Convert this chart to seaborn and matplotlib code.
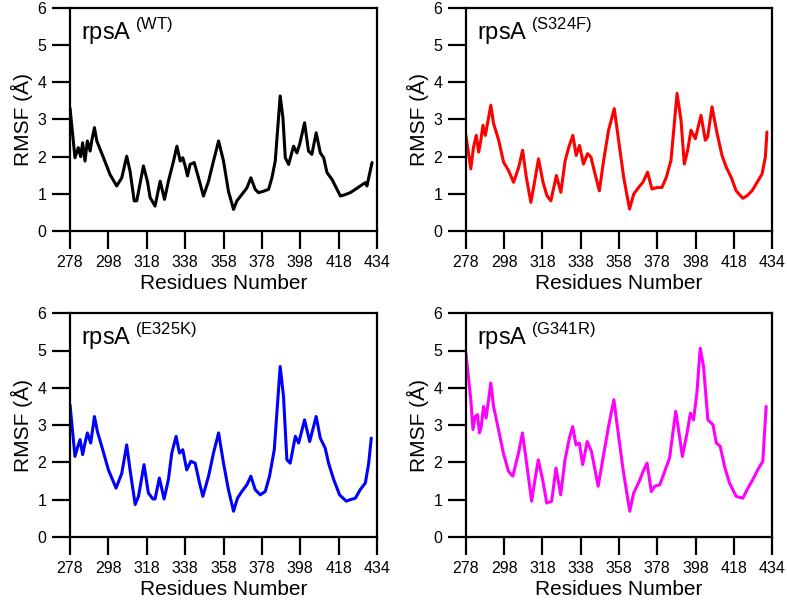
import numpy as np
import seaborn as sns
from matplotlib import pyplot as plt

# residue positions and RMSF values
wt_res = [278, 280.5, 282.2, 283.4, 284.4, 285.6, 286.8, 288.2, 289.0, 290.4, 291.6, 295.0,
          298.3, 301.7, 304.3, 306.8, 308.5, 310.6, 311.9, 315.3, 317.3, 318.7, 321.2, 323.8,
          326.0, 328.0, 330.6, 332.3, 334.0, 335.3, 336.5, 337.7, 339.0, 341.1, 343.3, 345.8,
          348.4, 350.9, 353.5, 356.0, 358.5, 361.1, 362.8, 365.3, 367.9, 369.9, 372.1, 373.8,
          376.4, 378.9, 380.6, 382.3, 384.8, 386.2, 387.4, 389.1, 391.6, 393.3, 394.7, 397.2,
          399.2, 400.9, 403.1, 405.2, 406.9, 408.6, 411.1, 413.7, 415.4, 417.9, 420.4, 423.0,
          425.5, 428.1, 428.9, 431.5]
wt_rmsf = [3.3, 1.97, 2.24, 2.0, 2.37, 1.88, 2.42, 2.15, 2.42, 2.78, 2.42, 1.97,
           1.52, 1.21, 1.43, 2.01, 1.61, 0.81, 0.81, 1.75, 1.34, 0.9, 0.67, 1.34,
           0.85, 1.34, 1.88, 2.28, 1.88, 1.97, 1.75, 1.48, 1.79, 1.84, 1.43, 0.94,
           1.34, 1.88, 2.42, 1.88, 1.07, 0.58, 0.81, 0.98, 1.16, 1.43, 1.12, 1.03,
           1.07, 1.12, 1.43, 1.88, 3.63, 3.04, 1.97, 1.79, 2.28, 2.1, 2.33, 2.91,
           2.15, 2.06, 2.64, 2.1, 1.97, 1.57, 1.39, 1.12, 0.94, 0.98, 1.03, 1.12,
           1.21, 1.30, 1.21, 1.84]

s324f_res = [278, 280.5, 281.9, 283.3, 284.5, 285.6, 286.7, 287.9, 288.7, 290.7, 292.1, 294.7,
             297.2, 299.8, 302.3, 304.9, 306.9, 308.8, 311.1, 312.8, 315.0, 317.3, 319.3, 321.3,
             324.1, 326.4, 328.6, 330.7, 332.5, 334.2, 335.9, 337.9, 340.0, 341.7, 343.4, 346.0,
             348.2, 350.7, 353.6, 355.8, 358.4, 361.4, 363.5, 366.0, 368.2, 370.6, 372.8, 375.4,
             377.9, 380.1, 382.5, 385.6, 387.6, 389.3, 391.0, 392.7, 394.9, 397.8, 400.0, 401.2,
             403.4, 406.0, 408.5, 410.7, 413.2, 415.7, 419.1, 421.3, 423.8, 426.4, 428.9, 430.6,
             431.4]
s324f_rmsf = [2.57, 1.67, 2.26, 2.57, 2.12, 2.44, 2.84, 2.57, 2.80, 3.38, 2.89, 2.44,
              1.85, 1.62, 1.31, 1.71, 2.17, 1.44, 0.77, 1.26, 1.94, 1.31, 0.95, 0.81,
              1.49, 1.04, 1.90, 2.30, 2.57, 2.03, 2.30, 1.80, 2.08, 1.99, 1.62, 1.08,
              1.90, 2.71, 3.29, 2.44, 1.44, 0.59, 0.99, 1.17, 1.31, 1.58, 1.13, 1.17,
              1.17, 1.44, 1.90, 3.70, 2.98, 1.80, 2.17, 2.71, 2.48, 3.11, 2.44, 2.53,
              3.34, 2.62, 2.03, 1.71, 1.44, 1.08, 0.88, 0.95, 1.08, 1.31, 1.53, 1.99,
              2.66]

e325k_res = [278, 280.5, 281.7, 283.1, 284.4, 285.6, 286.8, 288.5, 290.4, 291.9, 294.6, 297.5,
             301.4, 304.3, 306.8, 308.5, 311.1, 312.8, 315.6, 317.8, 320.1, 321.2, 323.4, 325.8,
             328.0, 329.7, 331.9, 333.6, 335.3, 337.3, 339.4, 341.6, 343.8, 345.5, 348.4, 350.9,
             353.5, 356.0, 358.5, 361.1, 363.1, 365.3, 367.9, 369.9, 372.1, 374.7, 377.2, 379.4,
             381.8, 384.8, 386.5, 388.2, 389.9, 392.5, 394.2, 397.2, 399.8, 403.1, 405.2, 407.7,
             409.4, 412.0, 415.0, 418.4, 420.4, 423.0, 425.5, 428.1, 429.8, 431.1]
e325k_rmsf = [3.54, 2.16, 2.38, 2.61, 2.21, 2.52, 2.79, 2.52, 3.23, 2.83, 2.34, 1.80,
              1.31, 1.71, 2.47, 1.80, 0.87, 1.09, 1.94, 1.18, 1.02, 1.02, 1.58, 1.02,
              1.54, 2.25, 2.70, 2.25, 2.34, 1.80, 2.03, 1.98, 1.45, 1.09, 1.63, 2.25,
              2.79, 1.98, 1.27, 0.69, 1.04, 1.22, 1.40, 1.63, 1.27, 1.13, 1.22, 1.63,
              2.34, 4.57, 3.77, 2.07, 1.98, 2.70, 2.52, 3.14, 2.56, 3.23, 2.65, 2.38,
              1.98, 1.54, 1.13, 0.96, 1.0, 1.04, 1.27, 1.45, 1.98, 2.65]

g341r_res = [278, 280.5, 281.6, 282.7, 283.9, 284.9, 285.8, 287.0, 288.3, 290.7, 292.1, 294.6,
             297.1, 299.7, 301.9, 304.8, 306.8, 308.7, 311.5, 313.2, 314.9, 317.1, 319.2, 321.7,
             323.9, 326.3, 328.5, 330.7, 332.4, 334.1, 335.8, 337.5, 339.8, 342.0, 345.4, 348.0,
             351.0, 353.4, 355.6, 358.1, 361.5, 363.5, 366.3, 368.3, 370.3, 372.5, 374.2, 376.8,
             379.3, 381.8, 384.9, 386.6, 388.3, 390.7, 392.4, 394.0, 395.7, 397.4, 399.1, 401.3,
             403.9, 405.6, 407.6, 409.8, 412.3, 415.7, 419.1, 421.7, 424.2, 426.7, 429.3, 431.0]
g341r_rmsf = [4.93, 3.68, 2.88, 3.23, 3.28, 2.79, 2.96, 3.50, 3.19, 4.13, 3.50, 2.88,
              2.25, 1.76, 1.63, 2.25, 2.79, 2.07, 0.96, 1.54, 2.07, 1.54, 0.91, 0.96,
              1.85, 1.13, 2.07, 2.65, 2.96, 2.47, 2.52, 1.94, 2.56, 2.29, 1.36, 2.16,
              3.05, 3.68, 2.79, 1.80, 0.69, 1.18, 1.49, 1.76, 1.98, 1.22, 1.36, 1.40,
              1.76, 2.12, 3.37, 2.79, 2.16, 2.79, 3.32, 3.14, 3.86, 5.06, 4.57, 3.14,
              3.01, 2.52, 2.43, 1.89, 1.45, 1.09, 1.04, 1.31, 1.54, 1.80, 2.03, 3.50]

labels = ['WT', 'S324F', 'E325K', 'G341R']
colors = ['black', '#ff0000', '#0000ff', '#ff00ff']
xtick_labels = ['278', '298', '318', '338', '358', '378', '398', '418', '434']

sns.set_style('ticks')
plt.rcParams['font.family'] = ['Liberation Sans', 'DejaVu Sans']
plt.rcParams['mathtext.fontset'] = 'custom'
plt.rcParams['mathtext.rm'] = 'Liberation Sans'
# plain black text and ticks like the original
for key in ['text.color', 'axes.labelcolor', 'xtick.color', 'ytick.color']:
    plt.rcParams[key] = 'black'

fig = plt.figure(figsize=(7.87, 6), dpi=100)
# axes boxes [left, bottom, width, height]
boxes = [[0.089, 0.615, 0.390, 0.372],
         [0.592, 0.615, 0.389, 0.372],
         [0.089, 0.105, 0.390, 0.373],
         [0.592, 0.105, 0.389, 0.373]]

series = [(wt_res, wt_rmsf), (s324f_res, s324f_rmsf),
          (e325k_res, e325k_rmsf), (g341r_res, g341r_rmsf)]

for box, (res, rmsf), lab, col in zip(boxes, series, labels, colors):
    ax = fig.add_axes(box)
    sns.lineplot(x=res, y=rmsf, ax=ax, color=col, linewidth=2.2)
    ax.set_xlim(278, 434)
    ax.set_ylim(0, 6)
    ax.set_xticks(np.linspace(278, 434, len(xtick_labels)))
    ax.set_xticklabels(xtick_labels)
    ax.set_yticks(range(0, 7))
    ax.tick_params(direction='out', length=13, width=1.6, labelsize=11.5, pad=4)
    for sp in ax.spines.values():
        sp.set_linewidth(1.6)
        sp.set_color('black')
    ax.set_xlabel('Residues Number', fontsize=15, labelpad=3)
    ax.set_ylabel('RMSF (Å)', fontsize=15, labelpad=3)
    ax.text(0.035, 0.857, 'rpsA$^{\\ \\mathrm{(' + lab + ')}}$', transform=ax.transAxes,
            fontsize=17, va='baseline', ha='left')

plt.savefig('out.png', dpi=100)
